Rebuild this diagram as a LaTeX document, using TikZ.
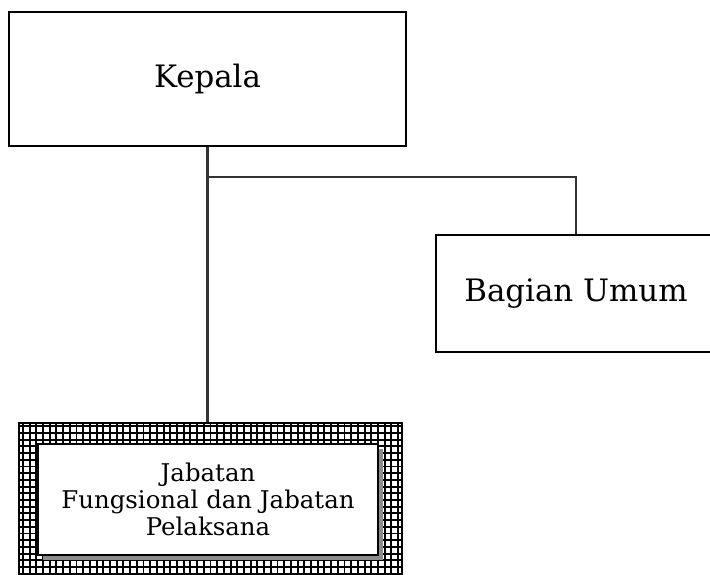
\documentclass[tikz,border=0pt]{standalone}
\usepackage{fontspec}
\setmainfont{DejaVu Serif}
\usetikzlibrary{positioning,shadows}
\tikzset{
  % kotak jabatan
  jabatan/.style={draw=black, line width=2.6bp, fill=white, inner sep=0pt,
    font=\fontsize{31}{35}\selectfont},
  % garis penghubung
  garis/.style={line width=2.2bp, black!80},
}

\begin{document}
\begin{tikzpicture}[x=1bp, y=-1bp,
    bingkai/.style={draw=black, line width=2.4bp, minimum width=383bp, minimum height=154bp, inner sep=0pt,
      path picture={\draw[line width=1.9bp, step=6.7bp] (path picture bounding box.south west) grid (path picture bounding box.north east);}},
    dalam/.style={draw=black, line width=1.2bp, fill=white, minimum width=340bp, minimum height=111bp,
      align=center, inner sep=0pt, font=\fontsize{24.5}{27}\selectfont,
      drop shadow={shadow xshift=5bp, shadow yshift=-5bp, fill=black!45, opacity=1}}
  ]
  \useasboundingbox (0,0) rectangle (710,575);

  % Kepala
  \node[jabatan, minimum width=397bp, minimum height=134bp] (kepala) at (207.5,79) {Kepala};

  % Bagian Umum
  \node[jabatan, minimum width=280bp, minimum height=117bp] (umum) at (576,293.5) {Bagian Umum};

  % Jabatan Fungsional
  \node[bingkai] (bingkai) at (210.5,500) {};
  \node[dalam] (fungsional) at (208,499.5) {Jabatan\\Fungsional dan Jabatan\\Pelaksana};

  % garis
  \coordinate (cabang) at (kepala.south |- 0,177);
  \draw[garis] (kepala.south) -- (kepala.south |- bingkai.north);
  \draw[garis] (cabang) -| (umum.north);
\end{tikzpicture}
\end{document}
